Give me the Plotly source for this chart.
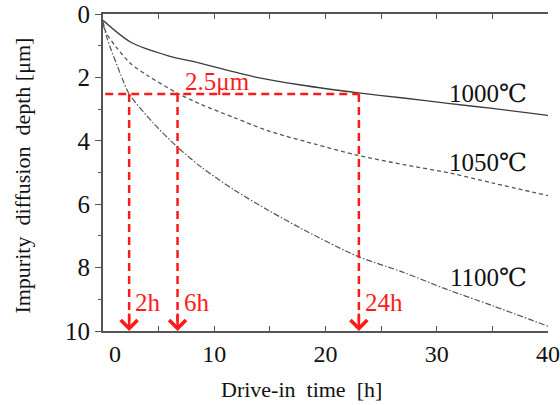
import plotly.graph_objects as go

# ---- data ----
t_1000 = [0, 2.5, 5.8, 8.8, 13.6, 17.8, 22.8, 27, 31, 35, 40]
d_1000 = [0.2, 0.89, 1.31, 1.56, 1.98, 2.24, 2.48, 2.65, 2.82, 2.98, 3.2]

t_1050 = [0, 0.3, 1.2, 2.5, 4, 6.7, 8.8, 11.8, 14.8, 19, 22.8, 27, 31.2, 35, 40]
d_1050 = [0.25, 0.6, 1.05, 1.57, 1.94, 2.5, 2.85, 3.27, 3.68, 4.1, 4.45, 4.75, 5.02, 5.33, 5.73]

t_1100 = [0, 0.4, 1.6, 2.35, 4.6, 6.7, 8.8, 11.8, 14.8, 18, 22.8, 27, 31, 35, 40]
d_1100 = [0.3, 0.8, 1.92, 2.52, 3.47, 4.2, 4.82, 5.55, 6.18, 6.8, 7.63, 8.15, 8.7, 9.2, 9.85]

temp_labels = ["1000℃", "1050℃", "1100℃"]
temp_label_depth = [2.5, 4.67, 8.3]

target_depth = 2.52
target_label = "2.5μm"
arrow_times = [2.35, 6.7, 23.0]
arrow_labels = ["2h", "6h", "24h"]

x_ticks = [0, 5, 10, 15, 20, 25, 30, 35, 40]
x_ticktext = ["\u00a0\u00a0\u00a0\u00a00", "", "10", "", "20", "", "30", "", "40"]
y_ticks = [0, 2, 4, 6, 8, 10]
y_right_ticks = list(range(0, 11))

x_range = [0, 40]
y_range = [10, 0]

FONT = "Liberation Serif, Times New Roman, DejaVu Serif, serif"
RED = "#ff1a1a"
GRAY = "#3c3c3c"

fig = go.Figure()
fig.add_trace(go.Scatter(x=t_1000, y=d_1000, mode="lines", line=dict(color=GRAY, width=1.3, shape="spline", smoothing=0.8), showlegend=False))
fig.add_trace(go.Scatter(x=t_1050, y=d_1050, mode="lines", line=dict(color="#555555", width=1.3, dash="4px,3px", shape="spline", smoothing=0.8), showlegend=False))
fig.add_trace(go.Scatter(x=t_1100, y=d_1100, mode="lines", line=dict(color="#555555", width=1.2, dash="6px,2px,1.5px,2px", shape="spline", smoothing=0.8), showlegend=False))

# red horizontal dashed line
fig.add_trace(go.Scatter(x=[0.2, max(arrow_times)], y=[target_depth, target_depth], mode="lines",
                         line=dict(color=RED, width=2.5, dash="8px,5px"), showlegend=False))
# red vertical dashed lines + arrows
for t, lab in zip(arrow_times, arrow_labels):
    fig.add_trace(go.Scatter(x=[t, t], y=[target_depth, y_range[0] - 0.3], mode="lines",
                             line=dict(color=RED, width=2.5, dash="8px,5px"), showlegend=False))
    fig.add_annotation(x=t, y=y_range[0], ax=t, ay=y_range[0] - 0.6, xref="x", yref="y", axref="x", ayref="y",
                       showarrow=True, arrowhead=4, arrowsize=1.3, arrowwidth=2.5, arrowcolor=RED, text="")
    fig.add_annotation(x=t, y=9.1, xref="x", yref="y", text=lab, showarrow=False,
                       xanchor="left", yanchor="middle", xshift=4,
                       font=dict(family=FONT, size=25, color=RED))

fig.add_annotation(x=7.2, y=target_depth, xref="x", yref="y", text=target_label, showarrow=False,
                   xanchor="left", yanchor="bottom", yshift=-3,
                   font=dict(family=FONT, size=25, color=RED))

for lab, d in zip(temp_labels, temp_label_depth):
    fig.add_annotation(x=38.3, y=d, xref="x", yref="y", text=lab, showarrow=False,
                       xanchor="right", yanchor="middle",
                       font=dict(family=FONT, size=25, color="#111111"))

# axis titles
fig.add_annotation(x=0.447, y=-0.186, xref="paper", yref="paper", text="Drive-in  time  [h]", showarrow=False,
                   xanchor="center", yanchor="middle", font=dict(family=FONT, size=22, color="#111111"))
fig.add_annotation(x=-0.18, y=0.49, xref="paper", yref="paper", text="Impurity  diffusion  depth [μm]", showarrow=False,
                   textangle=-90, xanchor="center", yanchor="middle", font=dict(family=FONT, size=22, color="#111111"))

axis_color = "#555555"
fig.update_layout(
    template="none",
    width=560, height=405,
    margin=dict(l=103, r=12, t=14, b=74, autoexpand=False),
    plot_bgcolor="white", paper_bgcolor="white",
    font=dict(family=FONT),
    xaxis=dict(range=x_range, tickvals=x_ticks, ticktext=x_ticktext, ticks="inside", ticklen=5, tickwidth=1.3,
               tickcolor=axis_color, showline=True, linecolor=axis_color, linewidth=2, mirror="ticks",
               showgrid=False, zeroline=False, automargin=False, ticklabeloverflow="allow",
               tickfont=dict(family=FONT, size=24, color="#111111")),
    yaxis=dict(range=y_range, tickvals=y_ticks, ticks="outside", ticklen=6, tickwidth=1.3, tickcolor=axis_color,
               minor=dict(dtick=1, ticks="outside", ticklen=3, tickcolor=axis_color, tickwidth=1.3, showgrid=False),
               showline=True, linecolor=axis_color, linewidth=2, showgrid=False, zeroline=False, automargin=False,
               ticklabeloverflow="allow",
               tickfont=dict(family=FONT, size=25, color="#111111")),
    yaxis2=dict(range=y_range, overlaying="y", side="right", tickvals=y_right_ticks, ticks="inside", ticklen=5,
                tickwidth=1.3, tickcolor=axis_color, showticklabels=False, showline=True, linecolor=axis_color,
                linewidth=2, showgrid=False, zeroline=False, automargin=False),
)
fig.write_html("out.html")
